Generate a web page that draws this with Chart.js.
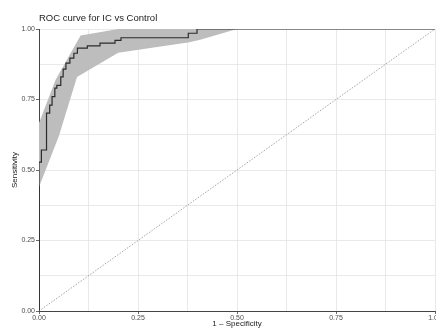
<!DOCTYPE html>
<html lang="en">
<head>
    <meta charset="UTF-8">
    <title>ROC curve for IC vs Control</title>
    <script src="https://cdn.jsdelivr.net/npm/chart.js"></script>
    <style>
        html, body { margin: 0; padding: 0; background: #fff; }
        #wrap { width: 436px; height: 329px; position: relative; }
    </style>
</head>
<body>
    <div id="wrap"><canvas id="rocChart"></canvas></div>

    <script>
        // ROC curve: false positive rate (end of each flat step) and sensitivity level
        const fpr = [0, 0.006, 0.019, 0.027, 0.033, 0.040, 0.045, 0.055, 0.061, 0.068, 0.078,
                     0.088, 0.097, 0.122, 0.154, 0.192, 0.207, 0.377, 0.399, 1.0];
        const tpr = [0, 0.528, 0.571, 0.702, 0.730, 0.760, 0.790, 0.800, 0.830, 0.858, 0.879,
                     0.897, 0.914, 0.932, 0.940, 0.950, 0.960, 0.969, 0.985, 1.0];

        // confidence band edges
        const bandUpperX = [0, 0.042, 0.105, 0.16, 0.2, 1.0];
        const bandUpperY = [0.667, 0.82, 0.977, 0.99, 1.0, 1.0];
        const bandLowerX = [0, 0.05, 0.096, 0.2, 0.38, 0.407, 0.5, 1.0];
        const bandLowerY = [0.44, 0.62, 0.83, 0.916, 0.953, 0.962, 1.0, 1.0];

        // chance line
        const diagX = [0, 1];
        const diagY = [0, 1];

        const tickValues = [0, 0.25, 0.5, 0.75, 1];

        const toPoints = (xs, ys) => xs.map((x, i) => ({ x: x, y: ys[i] }));

        // band as one closed shape: upper edge, then lower edge backwards
        const bandShape = toPoints(bandUpperX, bandUpperY)
            .concat(toPoints(bandLowerX, bandLowerY).reverse());

        const isMajor = v => tickValues.some(t => Math.abs(t - v) < 1e-9);
        const tickFont = { family: 'Liberation Sans', size: 7 };
        const gridColor = '#e3e3e3';

        const axis = (title, titlePadding) => ({
            type: 'linear',
            min: 0,
            max: 1,
            ticks: {
                stepSize: 0.125,
                autoSkip: false,
                maxRotation: 0,
                padding: 1,
                color: '#4d4d4d',
                font: tickFont,
                callback: v => isMajor(v) ? v.toFixed(2) : ''
            },
            grid: {
                color: gridColor,
                lineWidth: 0.8,
                tickLength: 3,
                tickColor: c => (c.tick && isMajor(c.tick.value)) ? '#444' : 'rgba(0,0,0,0)'
            },
            border: { display: true, color: '#444', width: 1 },
            title: {
                display: true,
                text: title,
                color: '#222',
                font: { family: 'Liberation Sans', size: 8 },
                padding: titlePadding
            }
        });

        const xAxis = axis('1 \u2013 Specificity', { top: 0, bottom: 0 });
        xAxis.ticks.padding = 0;
        xAxis.afterFit = s => { s.height = 18; s.paddingLeft = 0; s.paddingRight = 0; };

        const yAxis = axis('Sensitivity', { top: 10, bottom: 0 });
        yAxis.afterFit = s => { s.width = 39; s.paddingTop = 0; s.paddingBottom = 0; };

        new Chart(document.getElementById('rocChart'), {
            type: 'scatter',
            data: {
                datasets: [
                    {
                        label: 'ROC',
                        data: toPoints(fpr, tpr),
                        showLine: true,
                        stepped: 'after',
                        borderColor: '#2b2b2b',
                        borderWidth: 1.2,
                        pointRadius: 0,
                        fill: false
                    },
                    {
                        label: 'Chance',
                        data: toPoints(diagX, diagY),
                        showLine: true,
                        borderColor: '#9a9a9a',
                        borderWidth: 0.9,
                        borderDash: [1.5, 1.5],
                        pointRadius: 0,
                        fill: false
                    },
                    {
                        label: 'CI',
                        data: bandShape,
                        showLine: true,
                        borderWidth: 0,
                        borderColor: 'rgba(0,0,0,0)',
                        backgroundColor: '#bdbdbd',
                        pointRadius: 0,
                        fill: 'shape'
                    }
                ]
            },
            options: {
                responsive: true,
                maintainAspectRatio: false,
                animation: false,
                layout: { padding: { left: 0, right: 1, top: 0, bottom: 0 } },
                plugins: {
                    legend: { display: false },
                    tooltip: { enabled: false },
                    title: {
                        display: true,
                        text: 'ROC curve for IC vs Control',
                        align: 'start',
                        fullSize: false,
                        color: '#222',
                        font: { family: 'Liberation Sans', size: 9.5, weight: 'normal' },
                        padding: { top: 12.5, bottom: 5.1 }
                    }
                },
                scales: { x: xAxis, y: yAxis }
            }
        });
    </script>
</body>
</html>
